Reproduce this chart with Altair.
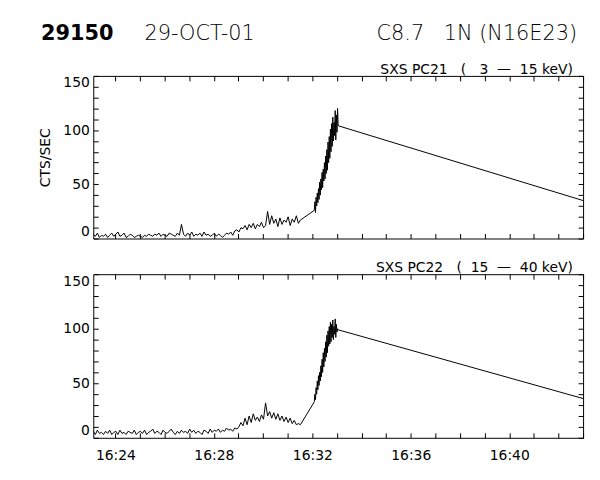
import altair as alt
import pandas as pd

FONT = "DejaVu Sans"

# time axis: minutes past 16:00
T_START = 23.1
QUIET_STEP_MIN = 5 / 60
RISE_START = 32.08
RISE_END = 33.05
T_END = 43.0

X_TICKS = list(range(24, 44))
Y_TICKS = list(range(0, 151, 10))

PC21_QUIET = [4, 2, 5, 1, 3, 2, 4, 1, 3, 5,
              2, 4, 6, 2, 3, 5, 1, 2, 4, 3,
              1, 2, 3, 2, 1, 3, 2, 4, 3, 2,
              4, 3, 5, 2, 4, 3, 2, 5, 4, 3,
              2, 5, 3, 13, 4, 2, 5, 3, 6, 2,
              4, 3, 5, 2, 6, 3, 4, 2, 3, 5,
              2, 4, 3, 1, 3, 5, 4, 6, 3, 7,
              8, 6, 10, 9, 12, 8, 13, 10, 14, 9,
              13, 11, 15, 10, 12, 25, 13, 21, 14, 18,
              11, 19, 13, 17, 15, 20, 12, 18, 15, 21,
              14, 17]
PC21_RISE = [26, 34, 24, 38, 30, 42, 33, 46, 36, 52,
             40, 55, 45, 61, 47, 64, 53, 70, 55, 76,
             60, 82, 63, 89, 70, 94, 74, 101, 80, 106,
             85, 112, 90, 107, 95, 118, 91, 114, 98, 120,
             104]
PC21_LAST = 35

PC22_QUIET = [6, 3, 7, 4, 5, 3, 6, 4, 7, 3,
              5, 6, 3, 7, 4, 5, 3, 6, 5, 4,
              7, 3, 5, 6, 4, 7, 3, 5, 6, 8,
              4, 6, 5, 3, 7, 5, 4, 6, 8, 5,
              3, 6, 4, 7, 5, 6, 4, 8, 5, 7,
              4, 6, 5, 3, 7, 6, 4, 8, 5, 7,
              6, 8, 5, 7, 6, 9, 7, 8, 6, 9,
              8, 10, 14, 11, 18, 12, 20, 14, 22, 16,
              19, 15, 21, 17, 32, 20, 24, 18, 23, 17,
              22, 16, 20, 15, 19, 14, 18, 13, 16, 12,
              13, 12]
PC22_RISE = [33, 40, 35, 46, 40, 52, 44, 57, 48, 60,
             52, 66, 56, 72, 60, 78, 65, 82, 70, 88,
             74, 94, 78, 98, 84, 102, 86, 106, 88, 104,
             92, 108, 90, 102, 95, 109, 92, 104, 97, 100,
             99]
PC22_LAST = 36

NB = "\u00a0"
SUB1 = "SXS PC21" + NB * 3 + "(" + NB * 3 + "3" + NB * 2 + "\u2014" + NB * 2 + "15" + NB + "keV)"
SUB2 = "SXS PC22" + NB * 3 + "(" + NB * 2 + "15" + NB * 2 + "\u2014" + NB * 2 + "40" + NB + "keV)"

HEADER = [
    ("29150", -52.6, -36.7, 21, "bold", "left"),
    ("29-OCT-01", 51.7, -36.7, 21, 200, "left"),
    ("C8.7", 285.7, -36.7, 21, 200, "left"),
    ("1N (N16E23)", 488.0, -36.7, 21, 200, "right"),
]

WIDTH = 494


def series(quiet, rise, last):
    t = [T_START + i * QUIET_STEP_MIN for i in range(len(quiet))]
    n = len(rise)
    t += [RISE_START + j * (RISE_END - RISE_START) / (n - 1) for j in range(n)]
    t.append(T_END)
    v = list(quiet) + list(rise) + [last]
    return pd.DataFrame({"t": t, "v": v, "i": list(range(len(v)))})


def panel(df, subtitle, height, show_xlabels, ytitle_color, header=()):
    xs = alt.Scale(domain=[T_START, T_END], nice=False, zero=False)
    ys = alt.Scale(domain=[0, 150], nice=False, zero=False)
    x_bottom = alt.Axis(orient="bottom", values=X_TICKS, labels=show_xlabels,
                        labelExpr="datum.value % 4 == 0 ? '16:' + datum.value : ''",
                        labelFlush=False, labelOverlap=False, labelPadding=11,
                        labelFont=FONT, labelFontSize=14, labelFontWeight="normal",
                        labelColor="black", title=None, tickSize=5, offset=-5,
                        domain=False, grid=False, tickColor="black")
    y_left = alt.Axis(orient="left", values=Y_TICKS,
                      labelExpr="datum.value % 50 == 0 ? datum.label : ''",
                      labelFlush=True, labelOverlap=False, labelPadding=4,
                      labelFont=FONT, labelFontSize=14, labelFontWeight="normal",
                      labelColor="black", title="CTS/SEC", titleFont=FONT,
                      titleFontSize=14, titleFontWeight="normal", titleColor=ytitle_color,
                      titlePadding=10, tickSize=5, offset=-5, domain=False,
                      grid=False, tickColor="black")
    x_top = alt.Axis(orient="top", values=X_TICKS, labels=False, title=None,
                     tickSize=5, offset=-5, domain=False, grid=False, tickColor="black")
    y_right = alt.Axis(orient="right", values=Y_TICKS, labels=False, title=None,
                       tickSize=5, offset=-5, domain=False, grid=False, tickColor="black")

    line = alt.Chart(df).mark_line(color="black", strokeWidth=1, clip=True).encode(
        x=alt.X("t:Q", scale=xs, axis=x_bottom),
        y=alt.Y("v:Q", scale=ys, axis=y_left),
        order="i:Q",
    )
    axes2 = alt.Chart(df).mark_point(opacity=0).encode(
        x=alt.X("t:Q", scale=xs, axis=x_top),
        y=alt.Y("v:Q", scale=ys, axis=y_right),
    )
    sub = alt.Chart(pd.DataFrame({"s": [subtitle]})).mark_text(
        align="right", baseline="alphabetic", font=FONT, fontSize=14,
        fontWeight="normal", color="black"
    ).encode(x=alt.value(WIDTH - 10.3), y=alt.value(-2), text="s:N")
    layers = [line, axes2, sub]
    for txt, x, y, size, weight, align in header:
        layers.append(
            alt.Chart(pd.DataFrame({"s": [txt]})).mark_text(
                align=align, baseline="alphabetic", font=FONT, fontSize=size,
                fontWeight=weight, color="black"
            ).encode(x=alt.value(x), y=alt.value(y), text="s:N")
        )
    return alt.layer(*layers).resolve_scale(x="independent", y="independent").properties(
        width=WIDTH, height=height)


top = panel(series(PC21_QUIET, PC21_RISE, PC21_LAST), SUB1, 164, False, "black", HEADER)
bottom = panel(series(PC22_QUIET, PC22_RISE, PC22_LAST), SUB2, 165, True, "white")

chart = alt.vconcat(top, bottom, spacing=19).properties(
    padding={"left": 30, "top": 11.5, "right": 5, "bottom": 5},
    background="white",
).configure_view(stroke="black", strokeWidth=1)

chart.save("out.html", embed_options={"renderer": "svg", "actions": False})
